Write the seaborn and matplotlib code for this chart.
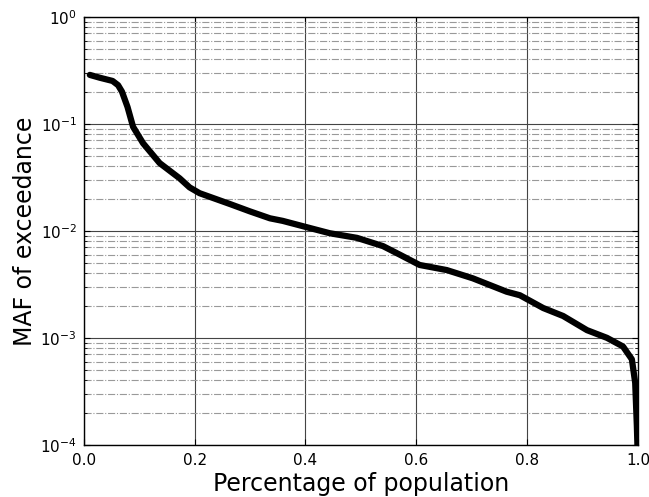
import matplotlib
matplotlib.use("Agg")
import matplotlib.pyplot as plt
import seaborn as sns
import pandas as pd
from matplotlib.ticker import LogLocator

# fraction of population and MAF of exceedance
population = [0.011, 0.029, 0.052, 0.062, 0.069, 0.079, 0.089, 0.107, 0.137,
              0.173, 0.191, 0.209, 0.264, 0.30, 0.336, 0.359, 0.40, 0.444, 0.493,
              0.54, 0.57, 0.606, 0.655, 0.702, 0.763, 0.787, 0.829, 0.865,
              0.908, 0.944, 0.973, 0.989, 0.995, 0.998, 0.999]
maf = [0.287, 0.27, 0.252, 0.23, 0.20, 0.144, 0.094, 0.066, 0.043,
       0.031, 0.0255, 0.0225, 0.0178, 0.0152, 0.0131, 0.0124, 0.0109, 0.0095, 0.0086,
       0.0072, 0.0060, 0.0048, 0.0043, 0.0036, 0.0027, 0.0025, 0.0019, 0.0016,
       0.00118, 0.00100, 0.00083, 0.00063, 0.00038, 0.00015, 0.0001]

df = pd.DataFrame({"pop": population, "maf": maf})

sns.set_style("white")
fig = plt.figure(figsize=(6.49, 4.97), dpi=100)
ax = fig.add_axes([0.129, 0.105, 0.854, 0.861])
sns.lineplot(data=df, x="pop", y="maf", color="black", linewidth=4.5,
             sort=False, ax=ax)
ax.set_yscale("log")
ax.set_xlim(0, 1)
ax.set_ylim(1e-4, 1)
ax.yaxis.set_major_locator(LogLocator(base=10, numticks=10))
ax.yaxis.set_minor_locator(LogLocator(base=10, subs=range(2, 10), numticks=20))
ax.grid(True, which="major", color="#444444", linewidth=0.8, linestyle="-")
ax.grid(True, which="minor", axis="y", color="#999999", linewidth=0.8, linestyle="-.")
ax.tick_params(which="both", direction="in", top=True, right=True,
               bottom=True, left=True, colors="black", labelsize=11)
ax.tick_params(which="major", length=4)
ax.tick_params(which="minor", length=2)
ax.tick_params(axis="x", pad=6)
ax.tick_params(axis="y", pad=5)
for s in ax.spines.values():
    s.set_color("black")
    s.set_linewidth(1.0)
ax.set_xlabel("Percentage of population", fontsize=17, labelpad=3, color="black")
ax.set_ylabel("MAF of exceedance", fontsize=17, labelpad=2, color="black")
fig.savefig("out.png", dpi=100)
